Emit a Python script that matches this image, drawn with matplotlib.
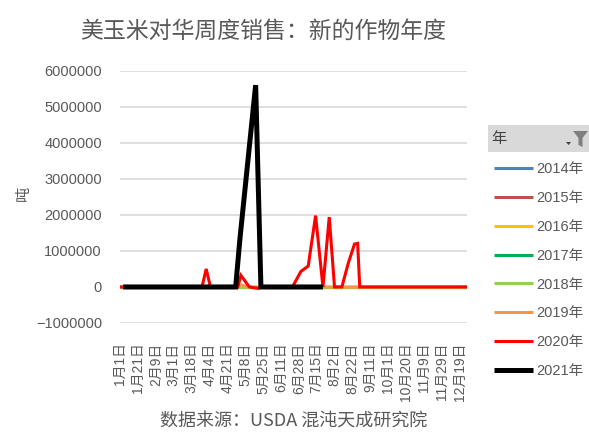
import matplotlib
matplotlib.use("Agg")
import matplotlib.pyplot as plt
from matplotlib.patches import Rectangle, Polygon

plt.rcParams['font.family'] = ['Liberation Sans', 'Noto Sans CJK SC', 'DejaVu Sans']

# ---- data ----
# category axis: month-day categories (union of report dates), label shown every 17th category
n_categories = 331
tick_positions = [0, 17, 34, 51, 68, 85, 102, 119, 136, 153, 170, 187, 204, 221, 238, 255, 272, 289, 306, 323]
tick_labels = ['1月1日', '1月21日', '2月9日', '3月1日', '3月18日', '4月4日', '4月21日', '5月8日',
               '5月25日', '6月11日', '6月28日', '7月15日', '8月2日', '8月22日', '9月11日', '10月1日',
               '10月20日', '11月9日', '11月29日', '12月19日']

years = ['2014年', '2015年', '2016年', '2017年', '2018年', '2019年', '2020年', '2021年']
colors = ['#4F81BD', '#C0504D', '#FFC000', '#00B050', '#92D050', '#F79646', '#FF0000', '#000000']
widths = [2.2, 2.2, 2.2, 2.2, 2.2, 2.2, 2.2, 3.6]

x_2014 = [0, 330]; y_2014 = [0, 0]
x_2015 = [0, 330]; y_2015 = [0, 0]
x_2016 = [0, 330]; y_2016 = [0, 0]
x_2017 = [0, 330]; y_2017 = [0, 0]
x_2018 = [0, 330]; y_2018 = [0, 0]
x_2019 = [0, 108, 115, 122, 330]
y_2019 = [0, 0, 60000, 0, 0]
x_2020 = [0, 78, 82, 86, 112, 115, 123, 131, 135, 164, 172, 179, 186, 193, 199, 204, 211, 217, 223, 226, 228, 330]
y_2020 = [0, 0, 500000, 0, 0, 320000, 0, -40000, 0, 0, 430000, 580000, 1980000, 0, 1940000, 0, 0,
          650000, 1190000, 1210000, 0, 0]
x_2021 = [3, 110, 114, 129, 134, 193]
y_2021 = [0, 0, 1320000, 5600000, 0, 0]

series_x = [x_2014, x_2015, x_2016, x_2017, x_2018, x_2019, x_2020, x_2021]
series_y = [y_2014, y_2015, y_2016, y_2017, y_2018, y_2019, y_2020, y_2021]

y_ticks = [-1000000, 0, 1000000, 2000000, 3000000, 4000000, 5000000, 6000000]

title = '美玉米对华周度销售：新的作物年度'
source = '数据来源：USDA 混沌天成研究院'

# ---- figure ----
W, H = 589, 434
fig = plt.figure(figsize=(W / 100, H / 100), dpi=100)
ax = fig.add_axes([120 / W, 1 - 323 / H, 347 / W, (323 - 70.7) / H])

txt = '#595959'
for xs, ys, c, lw, lab in zip(series_x, series_y, colors, widths, years):
    ax.plot(xs, ys, color=c, lw=lw, label=lab, solid_joinstyle='miter', solid_capstyle='butt')

ax.set_xlim(0, n_categories - 1)
ax.set_ylim(-1000000, 6000000)
ax.set_yticks(y_ticks)
ax.set_yticklabels([str(v).replace('-', '−') for v in y_ticks], fontsize=10.5, color=txt)
ax.set_xticks(tick_positions)
ax.set_xticklabels(tick_labels, rotation=90, fontsize=10, color=txt)
ax.tick_params(axis='both', length=0)
ax.tick_params(axis='y', pad=13)
ax.tick_params(axis='x', pad=14)
ax.grid(axis='y', color='#d9d9d9', lw=1.2)
ax.set_axisbelow(True)
for s in ax.spines.values():
    s.set_visible(False)

fig.text(23 / W, 1 - 193 / H, '吨', rotation=90, ha='center', va='center', fontsize=11, color=txt,
         family=['Noto Sans CJK SC'])
fig.text(263.5 / W, 1 - 31 / H, title, ha='center', va='center', fontsize=16.5, color=txt,
         family=['Noto Sans CJK SC'])
fig.text(294 / W, 1 - 422 / H, source, ha='center', va='center', fontsize=13, color=txt,
         family=['Noto Sans CJK SC'])

# legend with pivot field header
leg = fig.legend(loc='upper left', bbox_to_anchor=(494 / W, 1 - 162 / H), frameon=False,
                 fontsize=10.5, handlelength=2.65, handletextpad=0.25, labelspacing=1.02,
                 borderpad=0, borderaxespad=0)
for t in leg.get_texts():
    t.set_color(txt)

fig.patches.append(Rectangle((488 / W, 1 - 152 / H), (W - 488) / W, 27 / H, transform=fig.transFigure,
                             facecolor='#d9d9d9', edgecolor='none'))
fig.text(491 / W, 1 - 139 / H, '年', ha='left', va='center', fontsize=11, color='#404040',
         family=['Noto Sans CJK SC'])
funnel = [(573, 131), (588, 131), (582.5, 138), (582.5, 147), (578.5, 145), (578.5, 138)]
fig.patches.append(Polygon([(x / W, 1 - y / H) for x, y in funnel], closed=True, transform=fig.transFigure,
                           facecolor='#7f7f7f', edgecolor='none'))
arrow = [(566, 142), (571, 142), (568.5, 145)]
fig.patches.append(Polygon([(x / W, 1 - y / H) for x, y in arrow], closed=True, transform=fig.transFigure,
                           facecolor='#404040', edgecolor='none'))

fig.savefig('out.png', dpi=100)
